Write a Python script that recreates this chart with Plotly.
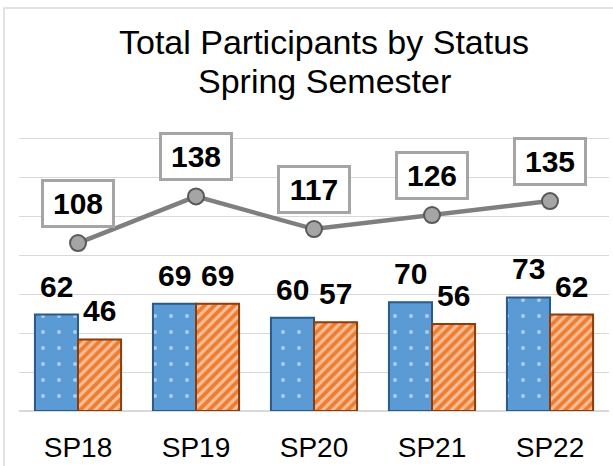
import plotly.graph_objects as go

categories = ["SP18", "SP19", "SP20", "SP21", "SP22"]
series_a = [62, 69, 60, 70, 73]      # blue dotted bars
series_b = [46, 69, 57, 56, 62]      # orange striped bars
totals = [108, 138, 117, 126, 135]   # grey line
title_lines = ["Total Participants by Status", "Spring Semester"]

W, H = 613, 466
L, R, T, B = 19, 4, 100, 55
plot_w = W - L - R
plot_h = H - T - B

FONT = "Liberation Sans, Arial, sans-serif"

fig = go.Figure()

fig.add_trace(go.Bar(
    x=categories, y=series_a, name="A",
    marker=dict(
        color="#5b9bd5",
        line=dict(color="#2a5a88", width=2),
        pattern=dict(shape=".", fgcolor="white", bgcolor="#5b9bd5", size=16, solidity=0.05),
    ),
))
fig.add_trace(go.Bar(
    x=categories, y=series_b, name="B",
    marker=dict(
        color="#ed7d31",
        line=dict(color="#8a3d0e", width=2),
        pattern=dict(shape="/", fgcolor="white", bgcolor="#ed7d31", size=7, solidity=0.45),
    ),
))
fig.add_trace(go.Scatter(
    x=categories, y=totals, mode="lines+markers", name="Total",
    line=dict(color="#7f7f7f", width=4.5),
    marker=dict(size=16, color="#a5a5a5", line=dict(color="#595959", width=2)),
))

annotations = []
shift = plot_w / len(categories) * (1 - 0.27) / 4
for c, a, b, t in zip(categories, series_a, series_b, totals):
    annotations.append(dict(x=c, y=a, text=f"<b>{a}</b>", showarrow=False, xshift=-shift,
                            yanchor="bottom", yshift=10,
                            font=dict(family=FONT, size=30, color="black")))
    annotations.append(dict(x=c, y=b, text=f"<b>{b}</b>", showarrow=False, xshift=shift,
                            yanchor="bottom", yshift=10,
                            font=dict(family=FONT, size=30, color="black")))
    annotations.append(dict(x=c, y=t, text=f"<b>{t}</b>", showarrow=False,
                            yanchor="bottom", yshift=15, width=58,
                            bordercolor="#a5a5a5", borderwidth=3, borderpad=5, bgcolor="white",
                            font=dict(family=FONT, size=30, color="black")))

annotations.append(dict(xref="paper", yref="paper", x=(324 - L) / plot_w, y=(H - B - 42) / plot_h,
                        text=title_lines[0], showarrow=False, xanchor="center", yanchor="middle",
                        font=dict(family=FONT, size=34, color="black")))
annotations.append(dict(xref="paper", yref="paper", x=(324 - L) / plot_w, y=(H - B - 81) / plot_h,
                        text=title_lines[1], showarrow=False, xanchor="center", yanchor="middle",
                        font=dict(family=FONT, size=34, color="black")))

fig.update_layout(
    width=W, height=H,
    margin=dict(l=L, r=R, t=T, b=B, autoexpand=False),
    paper_bgcolor="white", plot_bgcolor="white",
    barmode="group", bargap=0.27, bargroupgap=0,
    showlegend=False,
    annotations=annotations,
    shapes=[dict(type="rect", xref="paper", yref="paper",
                 x0=(4 - L) / plot_w, x1=1.2, y0=-0.4, y1=(H - B - 8) / plot_h,
                 line=dict(color="#d9d9d9", width=1.5), layer="below")],
    xaxis=dict(showgrid=False, showline=False, ticks="outside", ticklen=11,
               tickcolor="rgba(0,0,0,0)", automargin=False,
               tickfont=dict(family=FONT, size=28, color="black")),
    yaxis=dict(range=[0, 200], dtick=25, showticklabels=False, showgrid=True,
               gridcolor="#d9d9d9", gridwidth=1, zeroline=True, zerolinecolor="#d9d9d9",
               zerolinewidth=2, showline=False, ticks="", automargin=False),
)

fig.write_html("out.html", config={"displayModeBar": False},
               post_script="document.body.style.margin='0';document.body.style.overflow='hidden';")
